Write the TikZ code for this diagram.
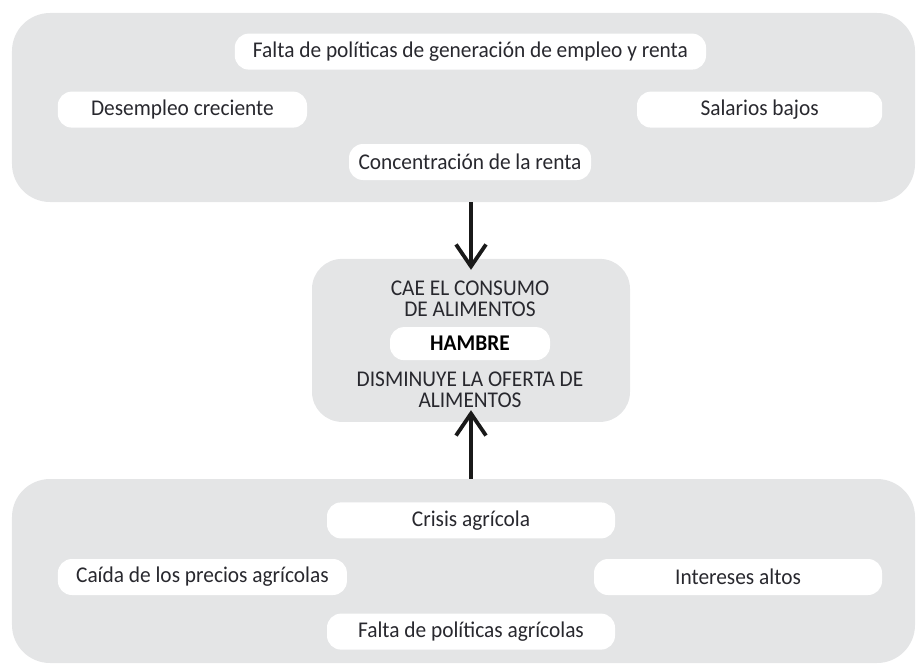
\documentclass[tikz,border=0pt]{standalone}
\usepackage{fontspec}
\setmainfont[FakeStretch=0.95]{Carlito}
\usepackage{xcolor}
\usepackage{tikz}
\usetikzlibrary{arrows.meta,positioning,calc}

\definecolor{panelgray}{RGB}{228,229,230}
\definecolor{textgray}{RGB}{40,40,46}

\begin{document}
\begin{tikzpicture}[
  font=\fontsize{16}{15}\selectfont, text=textgray,
  panel/.style={fill=panelgray, draw=none, rounded corners=0.95cm},
  cause/.style={fill=white, draw=none, rounded corners=0.35cm, align=center, minimum height=0.9cm, inner sep=0pt},
  core/.style={fill=white, draw=none, rounded corners=0.35cm, align=center, minimum width=4cm, minimum height=0.825cm, inner sep=0pt, font=\fontsize{16}{15}\selectfont\bfseries, text=black},
  arrow/.style={-{Straight Barb[length=5.5mm,width=7.5mm]}, line width=2.7pt, draw=black!90}
]
\useasboundingbox (0,0) rectangle (22.9,-16.6);

% panels
\node[panel, minimum width=22.575cm, minimum height=4.725cm] (Top) at (11.5875,-2.6875) {};
\node[panel, minimum width=7.95cm, minimum height=4.075cm, rounded corners=0.75cm] (Mid) at (11.775,-8.51) {};
\node[panel, minimum width=22.575cm, minimum height=4.6cm] (Bot) at (11.5875,-14.275) {};

% top causes
\node[cause, minimum width=11.78cm] (Empleo) at (11.76,-1.29) {Falta de políticas de generación de empleo y renta};
\node[cause, minimum width=6.23cm] (Desempleo) at (4.56,-2.74) {Desempleo creciente};
\node[cause, minimum width=6.13cm] (Salarios) at (18.99,-2.74) {Salarios bajos};
\node[cause, minimum width=6.05cm] (Renta) at (11.75,-4.05) {Concentración de la renta};

% centre
\node[align=center, inner sep=0pt] (Consumo) at (11.75,-7.48) {CAE EL CONSUMO\\DE ALIMENTOS};
\node[core] (Hambre) at (11.75,-8.59) {HAMBRE};
\node[align=center, inner sep=0pt] (Oferta) at (11.75,-9.74) {DISMINUYE LA OFERTA DE\\ALIMENTOS};

% bottom causes
\node[cause, minimum width=7.2cm] (Crisis) at (11.775,-13.01) {Crisis agrícola};
\node[cause, minimum width=7.225cm] (Precios) at (5.06,-14.425) {Caída de los precios agrícolas};
\node[cause, minimum width=7.2cm] (Intereses) at (18.45,-14.425) {Intereses altos};
\node[cause, minimum width=7.2cm] (Agricola) at (11.775,-15.79) {Falta de políticas agrícolas};

\draw[arrow, shorten >=-0.28cm] (Top.south -| Mid.north) -- (Mid.north);
\draw[arrow, shorten >=-0.3cm] (Bot.north -| Mid.south) -- (Mid.south);
\end{tikzpicture}
\end{document}
